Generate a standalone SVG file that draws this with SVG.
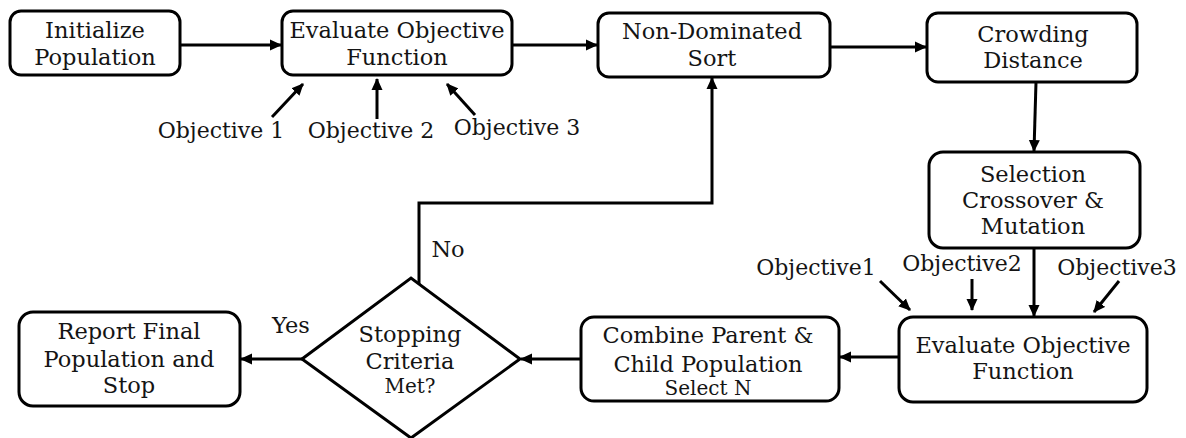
<svg xmlns="http://www.w3.org/2000/svg" width="1186" height="438" viewBox="0 0 1186 438">
<defs>
<marker id="ah" markerUnits="userSpaceOnUse" markerWidth="12" markerHeight="12" refX="11" refY="6" orient="auto">
<path d="M0,0.5 L12,6 L0,11.5 z" fill="#000"/>
</marker>
<style>
.box{fill:#fff;stroke:#000;stroke-width:3}
.t{font-family:"DejaVu Serif","Liberation Serif",serif;font-size:22.5px;fill:#141414;text-anchor:middle}
.o{font-size:22px}
.s{font-size:20px}
.c{fill:none;stroke:#000;stroke-width:3}
.a{fill:none;stroke:#000;stroke-width:3;marker-end:url(#ah)}
</style>
</defs>
<rect width="1186" height="438" fill="#fff"/>
<g id="connectors">
<line class="a" x1="180" y1="45" x2="281" y2="45"/>
<line class="a" x1="512" y1="45" x2="597" y2="45"/>
<line class="a" x1="830" y1="47" x2="926" y2="47"/>
<line class="a" x1="1036" y1="82" x2="1034" y2="151"/>
<line class="a" x1="1034" y1="248" x2="1034" y2="316"/>
<line class="a" x1="899" y1="357" x2="840" y2="357"/>
<line class="a" x1="581" y1="359" x2="521" y2="359"/>
<line class="a" x1="302" y1="359" x2="241" y2="359"/>
<polyline class="a" points="419,284 419,203 712,203 712,78"/>
<line class="a" x1="272" y1="117" x2="303" y2="84"/>
<line class="a" x1="377" y1="119" x2="377" y2="79"/>
<line class="a" x1="475" y1="115" x2="447" y2="84"/>
<line class="a" x1="880" y1="281" x2="910" y2="310"/>
<line class="a" x1="972" y1="279" x2="972" y2="310"/>
<line class="a" x1="1119" y1="281" x2="1094" y2="312"/>
</g>
<g id="initialize">
<rect class="box" x="10" y="11" width="170" height="64" rx="11"/>
<text class="t" x="95" y="38">Initialize</text>
<text class="t" x="95" y="65">Population</text>
</g>
<g id="evaluate1">
<rect class="box" x="282" y="11" width="230" height="64" rx="11"/>
<text class="t" x="397" y="38">Evaluate Objective</text>
<text class="t" x="397" y="65">Function</text>
</g>
<g id="objectives-top">
<text class="t o" x="221" y="138">Objective 1</text>
<text class="t o" x="371" y="138">Objective 2</text>
<text class="t o" x="517" y="135">Objective 3</text>
</g>
<g id="nondominated">
<rect class="box" x="598" y="13" width="232" height="64" rx="11"/>
<text class="t" x="712" y="39">Non-Dominated</text>
<text class="t" x="712" y="66">Sort</text>
</g>
<g id="crowding">
<rect class="box" x="927" y="13" width="210" height="69" rx="11"/>
<text class="t" x="1033" y="42">Crowding</text>
<text class="t" x="1033" y="68">Distance</text>
</g>
<g id="selection">
<rect class="box" x="929" y="152" width="211" height="96" rx="14"/>
<text class="t" x="1033" y="182">Selection</text>
<text class="t" x="1033" y="208">Crossover &amp;</text>
<text class="t" x="1033" y="234">Mutation</text>
</g>
<g id="objectives-right">
<text class="t o" x="816" y="275">Objective1</text>
<text class="t o" x="962" y="271">Objective2</text>
<text class="t o" x="1117" y="275">Objective3</text>
</g>
<g id="evaluate2">
<rect class="box" x="899" y="317" width="248" height="85" rx="14"/>
<text class="t" x="1023" y="353">Evaluate Objective</text>
<text class="t" x="1023" y="379">Function</text>
</g>
<g id="combine">
<rect class="box" x="581" y="317" width="258" height="84" rx="13"/>
<text class="t" x="708" y="343">Combine Parent &amp;</text>
<text class="t" x="708" y="372">Child Population</text>
<text class="t s" x="708" y="395">Select N</text>
</g>
<g id="stopping">
<polygon points="302,359 411,278 520,359 411,438" fill="#fff" stroke="#000" stroke-width="3"/>
<text class="t" x="410" y="342">Stopping</text>
<text class="t" x="410" y="369">Criteria</text>
<text class="t s" x="410" y="393">Met?</text>
</g>
<g id="report">
<rect class="box" x="19" y="312" width="221" height="94" rx="14"/>
<text class="t" x="129" y="339">Report Final</text>
<text class="t" x="129" y="367">Population and</text>
<text class="t" x="129" y="393">Stop</text>
</g>
<g id="labels">
<text class="t" x="291" y="333">Yes</text>
<text class="t" x="448" y="257">No</text>
</g>
</svg>
